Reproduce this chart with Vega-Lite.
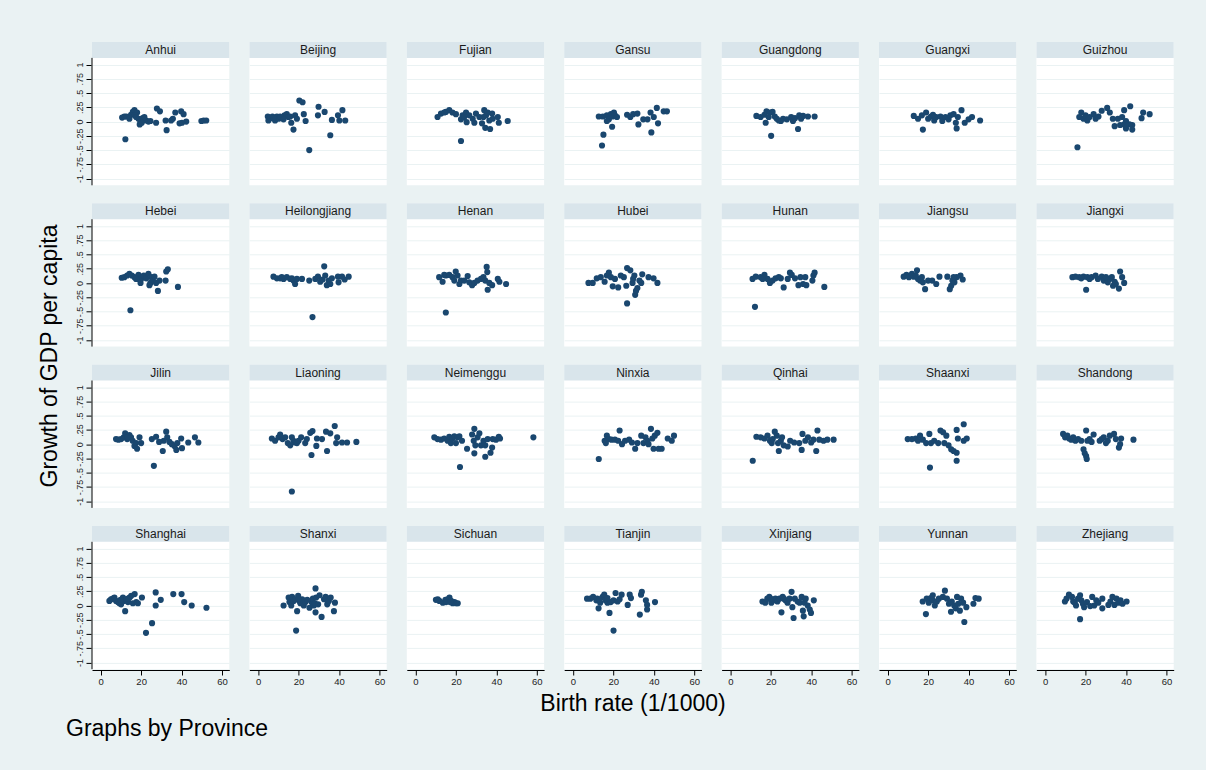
{
  "$schema": "https://vega.github.io/schema/vega-lite/v6.json",
  "background": "#eaf2f3",
  "padding": {"left": 38, "top": 42, "right": 37, "bottom": 29},
  "datasets": {
    "prov": [
      {"p":"Anhui","r":1,"c":1},{"p":"Beijing","r":1,"c":2},{"p":"Fujian","r":1,"c":3},{"p":"Gansu","r":1,"c":4},{"p":"Guangdong","r":1,"c":5},{"p":"Guangxi","r":1,"c":6},{"p":"Guizhou","r":1,"c":7},
      {"p":"Hebei","r":2,"c":1},{"p":"Heilongjiang","r":2,"c":2},{"p":"Henan","r":2,"c":3},{"p":"Hubei","r":2,"c":4},{"p":"Hunan","r":2,"c":5},{"p":"Jiangsu","r":2,"c":6},{"p":"Jiangxi","r":2,"c":7},
      {"p":"Jilin","r":3,"c":1},{"p":"Liaoning","r":3,"c":2},{"p":"Neimenggu","r":3,"c":3},{"p":"Ninxia","r":3,"c":4},{"p":"Qinhai","r":3,"c":5},{"p":"Shaanxi","r":3,"c":6},{"p":"Shandong","r":3,"c":7},
      {"p":"Shanghai","r":4,"c":1},{"p":"Shanxi","r":4,"c":2},{"p":"Sichuan","r":4,"c":3},{"p":"Tianjin","r":4,"c":4},{"p":"Xinjiang","r":4,"c":5},{"p":"Yunnan","r":4,"c":6},{"p":"Zhejiang","r":4,"c":7}
    ]
  },
  "data": {"values": [
    {"p":"Anhui","x":10.6,"y":0.07},{"p":"Anhui","x":11.7,"y":0.09},{"p":"Anhui","x":12.7,"y":0.09},{"p":"Anhui","x":15,"y":0.12},{"p":"Anhui","x":15.9,"y":0.17},{"p":"Anhui","x":16.7,"y":0.2},{"p":"Anhui","x":18,"y":0.16},{"p":"Anhui","x":16.9,"y":0.11},{"p":"Anhui","x":18.7,"y":0.05},{"p":"Anhui","x":19.7,"y":0.01},{"p":"Anhui","x":19.3,"y":-0.05},{"p":"Anhui","x":20.8,"y":0.06},{"p":"Anhui","x":21.6,"y":0.08},{"p":"Anhui","x":22.5,"y":0.02},{"p":"Anhui","x":23.6,"y":0},{"p":"Anhui","x":24.6,"y":0.01},{"p":"Anhui","x":27.4,"y":-0.02},{"p":"Anhui","x":27.8,"y":0.23},{"p":"Anhui","x":29.3,"y":0.18},{"p":"Anhui","x":12.2,"y":-0.31},{"p":"Anhui","x":32.6,"y":-0.15},{"p":"Anhui","x":32.1,"y":0.02},{"p":"Anhui","x":34.8,"y":0.02},{"p":"Anhui","x":35.7,"y":0.05},{"p":"Anhui","x":36.9,"y":0.16},{"p":"Anhui","x":39,"y":-0.03},{"p":"Anhui","x":39.8,"y":0.18},{"p":"Anhui","x":41,"y":0.13},{"p":"Anhui","x":42.3,"y":0},{"p":"Anhui","x":40.2,"y":-0.02},{"p":"Anhui","x":49.8,"y":0.01},{"p":"Anhui","x":50.9,"y":0.02},{"p":"Anhui","x":52.2,"y":0.02},{"p":"Anhui","x":14.2,"y":0.05},{"p":"Anhui","x":20.3,"y":-0.02},{"p":"Anhui","x":17.5,"y":0.08},
    {"p":"Beijing","x":4.8,"y":0.09},{"p":"Beijing","x":5.1,"y":0.02},{"p":"Beijing","x":6,"y":0.06},{"p":"Beijing","x":7.1,"y":0.09},{"p":"Beijing","x":8.4,"y":0.02},{"p":"Beijing","x":9.3,"y":0.09},{"p":"Beijing","x":10.1,"y":0.05},{"p":"Beijing","x":11.7,"y":0.06},{"p":"Beijing","x":13.1,"y":0.11},{"p":"Beijing","x":14.2,"y":0.13},{"p":"Beijing","x":15,"y":0.08},{"p":"Beijing","x":16.4,"y":-0.02},{"p":"Beijing","x":17.5,"y":-0.14},{"p":"Beijing","x":18.3,"y":0.11},{"p":"Beijing","x":19.2,"y":0.05},{"p":"Beijing","x":20.4,"y":0.37},{"p":"Beijing","x":22,"y":0.34},{"p":"Beijing","x":22.6,"y":0.13},{"p":"Beijing","x":23.5,"y":0.01},{"p":"Beijing","x":25.3,"y":-0.5},{"p":"Beijing","x":29.9,"y":0.26},{"p":"Beijing","x":29.6,"y":0.11},{"p":"Beijing","x":32.9,"y":0.17},{"p":"Beijing","x":35.7,"y":-0.24},{"p":"Beijing","x":36.5,"y":0.03},{"p":"Beijing","x":39.5,"y":0.11},{"p":"Beijing","x":40.2,"y":0.02},{"p":"Beijing","x":41.7,"y":0.2},{"p":"Beijing","x":43.1,"y":0.02},{"p":"Beijing","x":7.6,"y":0.06},{"p":"Beijing","x":10.9,"y":0.09},{"p":"Beijing","x":12.6,"y":0.04},{"p":"Beijing","x":15.9,"y":0.09},
    {"p":"Fujian","x":10.9,"y":0.08},{"p":"Fujian","x":12.6,"y":0.14},{"p":"Fujian","x":15,"y":0.17},{"p":"Fujian","x":16.7,"y":0.2},{"p":"Fujian","x":18.3,"y":0.16},{"p":"Fujian","x":20,"y":0.13},{"p":"Fujian","x":22.5,"y":0.04},{"p":"Fujian","x":23.3,"y":0.11},{"p":"Fujian","x":25,"y":0.16},{"p":"Fujian","x":25.3,"y":-0.01},{"p":"Fujian","x":26.6,"y":0.11},{"p":"Fujian","x":28.3,"y":0.05},{"p":"Fujian","x":29.1,"y":-0.02},{"p":"Fujian","x":29.9,"y":0.14},{"p":"Fujian","x":32.9,"y":-0.03},{"p":"Fujian","x":33.6,"y":0.08},{"p":"Fujian","x":34,"y":0.2},{"p":"Fujian","x":34.9,"y":0.11},{"p":"Fujian","x":35.7,"y":0.16},{"p":"Fujian","x":34.5,"y":-0.11},{"p":"Fujian","x":36.9,"y":-0.13},{"p":"Fujian","x":37.9,"y":0.14},{"p":"Fujian","x":38.2,"y":0.05},{"p":"Fujian","x":40.7,"y":0.08},{"p":"Fujian","x":41.2,"y":-0.02},{"p":"Fujian","x":45.6,"y":0.01},{"p":"Fujian","x":22.5,"y":-0.34},{"p":"Fujian","x":14.2,"y":0.16},{"p":"Fujian","x":24.1,"y":0.08},{"p":"Fujian","x":31.6,"y":0.08},{"p":"Fujian","x":36.5,"y":0.02},
    {"p":"Gansu","x":12.8,"y":0.09},{"p":"Gansu","x":14.8,"y":0.09},{"p":"Gansu","x":16.8,"y":0.11},{"p":"Gansu","x":17.8,"y":0.04},{"p":"Gansu","x":18.8,"y":0.13},{"p":"Gansu","x":19.7,"y":0.09},{"p":"Gansu","x":20.8,"y":0.11},{"p":"Gansu","x":21.8,"y":0.08},{"p":"Gansu","x":15.1,"y":-0.23},{"p":"Gansu","x":14.4,"y":-0.42},{"p":"Gansu","x":19.4,"y":-0.09},{"p":"Gansu","x":26.8,"y":0.12},{"p":"Gansu","x":28.4,"y":0.08},{"p":"Gansu","x":29.8,"y":0.13},{"p":"Gansu","x":31.9,"y":0.14},{"p":"Gansu","x":32.4,"y":-0.05},{"p":"Gansu","x":34.8,"y":0.04},{"p":"Gansu","x":36.9,"y":0.04},{"p":"Gansu","x":38.4,"y":0.16},{"p":"Gansu","x":38.8,"y":-0.19},{"p":"Gansu","x":40,"y":0.08},{"p":"Gansu","x":41.5,"y":0.24},{"p":"Gansu","x":42.1,"y":-0.03},{"p":"Gansu","x":44.9,"y":0.18},{"p":"Gansu","x":46.5,"y":0.18},{"p":"Gansu","x":16.8,"y":0.01},{"p":"Gansu","x":20.3,"y":0.16},
    {"p":"Guangdong","x":12.9,"y":0.1},{"p":"Guangdong","x":15,"y":0.08},{"p":"Guangdong","x":16.9,"y":0.12},{"p":"Guangdong","x":17.9,"y":0.18},{"p":"Guangdong","x":19.6,"y":0.16},{"p":"Guangdong","x":20.9,"y":0.17},{"p":"Guangdong","x":22,"y":0.09},{"p":"Guangdong","x":23,"y":0.05},{"p":"Guangdong","x":17.5,"y":-0.02},{"p":"Guangdong","x":20.2,"y":-0.25},{"p":"Guangdong","x":24,"y":0.02},{"p":"Guangdong","x":26.1,"y":0.05},{"p":"Guangdong","x":28,"y":0.04},{"p":"Guangdong","x":30.1,"y":0.08},{"p":"Guangdong","x":31,"y":0.01},{"p":"Guangdong","x":32,"y":0.06},{"p":"Guangdong","x":33.5,"y":-0.13},{"p":"Guangdong","x":34.1,"y":0.11},{"p":"Guangdong","x":36,"y":0.1},{"p":"Guangdong","x":38.4,"y":0.09},{"p":"Guangdong","x":41.7,"y":0.09},{"p":"Guangdong","x":19,"y":0.08},{"p":"Guangdong","x":25,"y":0.01},{"p":"Guangdong","x":35,"y":0.05},
    {"p":"Guangxi","x":12.9,"y":0.1},{"p":"Guangxi","x":15,"y":0.05},{"p":"Guangxi","x":16.9,"y":0.11},{"p":"Guangxi","x":19,"y":0.16},{"p":"Guangxi","x":20,"y":0.05},{"p":"Guangxi","x":21.4,"y":0.09},{"p":"Guangxi","x":23,"y":0.02},{"p":"Guangxi","x":24,"y":0.08},{"p":"Guangxi","x":26.1,"y":0.09},{"p":"Guangxi","x":27,"y":0.01},{"p":"Guangxi","x":28.6,"y":0.08},{"p":"Guangxi","x":30.1,"y":0.04},{"p":"Guangxi","x":31,"y":0.11},{"p":"Guangxi","x":32.6,"y":0.13},{"p":"Guangxi","x":33.7,"y":-0.02},{"p":"Guangxi","x":34.1,"y":-0.12},{"p":"Guangxi","x":36.5,"y":0.2},{"p":"Guangxi","x":38.1,"y":-0.02},{"p":"Guangxi","x":40,"y":0.04},{"p":"Guangxi","x":41.7,"y":0.08},{"p":"Guangxi","x":45.7,"y":0.02},{"p":"Guangxi","x":17.4,"y":-0.14},{"p":"Guangxi","x":34.7,"y":0.08},{"p":"Guangxi","x":22.4,"y":0.12},
    {"p":"Guizhou","x":16.9,"y":0.08},{"p":"Guizhou","x":17.9,"y":0.16},{"p":"Guizhou","x":19,"y":0.05},{"p":"Guizhou","x":20,"y":0.11},{"p":"Guizhou","x":20.9,"y":0.02},{"p":"Guizhou","x":22,"y":0.08},{"p":"Guizhou","x":24,"y":0.13},{"p":"Guizhou","x":25,"y":0.05},{"p":"Guizhou","x":26.4,"y":0.09},{"p":"Guizhou","x":28,"y":0.19},{"p":"Guizhou","x":30.7,"y":0.24},{"p":"Guizhou","x":32,"y":0.16},{"p":"Guizhou","x":33.5,"y":0.05},{"p":"Guizhou","x":34.4,"y":-0.08},{"p":"Guizhou","x":36,"y":0.05},{"p":"Guizhou","x":38.1,"y":0.08},{"p":"Guizhou","x":39.1,"y":0.2},{"p":"Guizhou","x":40,"y":0.01},{"p":"Guizhou","x":39.1,"y":-0.05},{"p":"Guizhou","x":40,"y":-0.12},{"p":"Guizhou","x":42.1,"y":0.27},{"p":"Guizhou","x":43.1,"y":-0.06},{"p":"Guizhou","x":43.1,"y":-0.14},{"p":"Guizhou","x":41.7,"y":-0.05},{"p":"Guizhou","x":47.7,"y":0.06},{"p":"Guizhou","x":48.5,"y":0.16},{"p":"Guizhou","x":51.7,"y":0.13},{"p":"Guizhou","x":16,"y":-0.45},{"p":"Guizhou","x":40,"y":-0.06},{"p":"Guizhou","x":37.1,"y":-0.06},
    {"p":"Hebei","x":10.4,"y":0.09},{"p":"Hebei","x":11.7,"y":0.1},{"p":"Hebei","x":13.1,"y":0.13},{"p":"Hebei","x":14.2,"y":0.16},{"p":"Hebei","x":15.4,"y":0.13},{"p":"Hebei","x":16.7,"y":0.1},{"p":"Hebei","x":18,"y":0.07},{"p":"Hebei","x":18.7,"y":0.14},{"p":"Hebei","x":19.7,"y":0},{"p":"Hebei","x":20,"y":0.07},{"p":"Hebei","x":21.3,"y":0.13},{"p":"Hebei","x":22.5,"y":0.08},{"p":"Hebei","x":23.6,"y":0.16},{"p":"Hebei","x":24.6,"y":0},{"p":"Hebei","x":25,"y":0.1},{"p":"Hebei","x":25.8,"y":0.04},{"p":"Hebei","x":26.6,"y":0.11},{"p":"Hebei","x":28.3,"y":-0.14},{"p":"Hebei","x":29.1,"y":0.04},{"p":"Hebei","x":32.1,"y":0.04},{"p":"Hebei","x":32.4,"y":0.2},{"p":"Hebei","x":33.2,"y":0.24},{"p":"Hebei","x":38.2,"y":-0.07},{"p":"Hebei","x":14.7,"y":-0.48},{"p":"Hebei","x":24.1,"y":-0.04},{"p":"Hebei","x":27.4,"y":0},{"p":"Hebei","x":17.5,"y":0.07},
    {"p":"Heilongjiang","x":7.6,"y":0.11},{"p":"Heilongjiang","x":9.3,"y":0.08},{"p":"Heilongjiang","x":10.9,"y":0.08},{"p":"Heilongjiang","x":12.6,"y":0.07},{"p":"Heilongjiang","x":14.2,"y":0.1},{"p":"Heilongjiang","x":15.9,"y":0.07},{"p":"Heilongjiang","x":17.5,"y":0.04},{"p":"Heilongjiang","x":18.3,"y":-0.02},{"p":"Heilongjiang","x":19.2,"y":0.07},{"p":"Heilongjiang","x":21.7,"y":0.07},{"p":"Heilongjiang","x":25.3,"y":0.04},{"p":"Heilongjiang","x":26.9,"y":-0.6},{"p":"Heilongjiang","x":28.3,"y":0.07},{"p":"Heilongjiang","x":29.6,"y":0.11},{"p":"Heilongjiang","x":30.7,"y":0.02},{"p":"Heilongjiang","x":32.7,"y":0.29},{"p":"Heilongjiang","x":33.2,"y":0.13},{"p":"Heilongjiang","x":34,"y":-0.04},{"p":"Heilongjiang","x":34.9,"y":0.04},{"p":"Heilongjiang","x":35.7,"y":-0.02},{"p":"Heilongjiang","x":36.5,"y":0.08},{"p":"Heilongjiang","x":39.5,"y":0.11},{"p":"Heilongjiang","x":39.8,"y":0.01},{"p":"Heilongjiang","x":41.5,"y":0.11},{"p":"Heilongjiang","x":42.8,"y":0.06},{"p":"Heilongjiang","x":44.8,"y":0.11},{"p":"Heilongjiang","x":11.7,"y":0.1},{"p":"Heilongjiang","x":16.7,"y":0.08},{"p":"Heilongjiang","x":31.9,"y":0.06},
    {"p":"Henan","x":11.7,"y":0.1},{"p":"Henan","x":13.4,"y":0.02},{"p":"Henan","x":14.2,"y":0.14},{"p":"Henan","x":15,"y":0.13},{"p":"Henan","x":16.7,"y":0.14},{"p":"Henan","x":18.3,"y":0.1},{"p":"Henan","x":19.9,"y":0.2},{"p":"Henan","x":20.8,"y":0.13},{"p":"Henan","x":21.7,"y":-0.02},{"p":"Henan","x":22.5,"y":0.04},{"p":"Henan","x":24.1,"y":0.04},{"p":"Henan","x":25.8,"y":0.12},{"p":"Henan","x":26.6,"y":0.01},{"p":"Henan","x":28,"y":-0.04},{"p":"Henan","x":29.1,"y":0},{"p":"Henan","x":30.7,"y":0.04},{"p":"Henan","x":32.4,"y":0.07},{"p":"Henan","x":33.6,"y":0.1},{"p":"Henan","x":34.5,"y":0.04},{"p":"Henan","x":35.2,"y":0.28},{"p":"Henan","x":35.5,"y":0.19},{"p":"Henan","x":35.7,"y":-0.12},{"p":"Henan","x":36.5,"y":0},{"p":"Henan","x":37.9,"y":-0.04},{"p":"Henan","x":40.7,"y":0.07},{"p":"Henan","x":41.5,"y":0.02},{"p":"Henan","x":44.8,"y":-0.02},{"p":"Henan","x":15,"y":-0.52},{"p":"Henan","x":19.2,"y":0.04},
    {"p":"Hubei","x":7.7,"y":0},{"p":"Hubei","x":9.8,"y":0},{"p":"Hubei","x":11.8,"y":0.08},{"p":"Hubei","x":13.8,"y":0.1},{"p":"Hubei","x":15.7,"y":0.02},{"p":"Hubei","x":16.8,"y":0.13},{"p":"Hubei","x":17.8,"y":0.18},{"p":"Hubei","x":18.8,"y":0.1},{"p":"Hubei","x":19.7,"y":-0.06},{"p":"Hubei","x":20.8,"y":0.07},{"p":"Hubei","x":22.4,"y":-0.08},{"p":"Hubei","x":25.2,"y":0.1},{"p":"Hubei","x":26.4,"y":-0.05},{"p":"Hubei","x":26.8,"y":0.26},{"p":"Hubei","x":26.8,"y":-0.36},{"p":"Hubei","x":28.4,"y":0.22},{"p":"Hubei","x":29.5,"y":0},{"p":"Hubei","x":30.4,"y":0.13},{"p":"Hubei","x":30.8,"y":-0.21},{"p":"Hubei","x":31.2,"y":-0.14},{"p":"Hubei","x":31.9,"y":-0.09},{"p":"Hubei","x":32.9,"y":0.04},{"p":"Hubei","x":33.8,"y":0},{"p":"Hubei","x":34.3,"y":0.15},{"p":"Hubei","x":37.4,"y":0.1},{"p":"Hubei","x":39.9,"y":0.08},{"p":"Hubei","x":41.8,"y":0},{"p":"Hubei","x":29.8,"y":0.07},{"p":"Hubei","x":23.7,"y":0.13},
    {"p":"Hunan","x":11,"y":0.07},{"p":"Hunan","x":12.6,"y":0.11},{"p":"Hunan","x":15,"y":0.1},{"p":"Hunan","x":16.9,"y":0.14},{"p":"Hunan","x":18.4,"y":0.07},{"p":"Hunan","x":19.6,"y":0},{"p":"Hunan","x":20.9,"y":0.04},{"p":"Hunan","x":22.4,"y":0.08},{"p":"Hunan","x":24,"y":0.1},{"p":"Hunan","x":26.4,"y":-0.08},{"p":"Hunan","x":28.4,"y":0.07},{"p":"Hunan","x":29.5,"y":0.18},{"p":"Hunan","x":30.4,"y":0.14},{"p":"Hunan","x":32,"y":0.08},{"p":"Hunan","x":33.7,"y":-0.04},{"p":"Hunan","x":34.7,"y":0.1},{"p":"Hunan","x":36,"y":-0.02},{"p":"Hunan","x":37.1,"y":0.1},{"p":"Hunan","x":37.6,"y":-0.04},{"p":"Hunan","x":40.6,"y":0.04},{"p":"Hunan","x":41.1,"y":0.13},{"p":"Hunan","x":41.7,"y":0.18},{"p":"Hunan","x":46.5,"y":-0.07},{"p":"Hunan","x":12.2,"y":-0.42},{"p":"Hunan","x":16,"y":0.07},{"p":"Hunan","x":25,"y":0.08},
    {"p":"Jiangsu","x":7.9,"y":0.11},{"p":"Jiangsu","x":9.3,"y":0.14},{"p":"Jiangsu","x":10.5,"y":0.1},{"p":"Jiangsu","x":12,"y":0.16},{"p":"Jiangsu","x":12.9,"y":0.11},{"p":"Jiangsu","x":14.5,"y":0.22},{"p":"Jiangsu","x":15,"y":0.07},{"p":"Jiangsu","x":16,"y":0.04},{"p":"Jiangsu","x":17.4,"y":0.01},{"p":"Jiangsu","x":18.5,"y":-0.11},{"p":"Jiangsu","x":20,"y":0.04},{"p":"Jiangsu","x":22,"y":0.04},{"p":"Jiangsu","x":24,"y":-0.02},{"p":"Jiangsu","x":25.6,"y":0.11},{"p":"Jiangsu","x":29.5,"y":0.11},{"p":"Jiangsu","x":30.7,"y":-0.11},{"p":"Jiangsu","x":31.4,"y":-0.05},{"p":"Jiangsu","x":32,"y":0.04},{"p":"Jiangsu","x":33,"y":0.01},{"p":"Jiangsu","x":34.1,"y":0.1},{"p":"Jiangsu","x":36,"y":0.13},{"p":"Jiangsu","x":37.1,"y":0.06},{"p":"Jiangsu","x":32.6,"y":0.1},{"p":"Jiangsu","x":13.9,"y":0.13},{"p":"Jiangsu","x":16.9,"y":0.1},
    {"p":"Jiangxi","x":13.5,"y":0.1},{"p":"Jiangxi","x":15,"y":0.11},{"p":"Jiangxi","x":16.9,"y":0.1},{"p":"Jiangxi","x":19,"y":0.11},{"p":"Jiangxi","x":20.3,"y":-0.12},{"p":"Jiangxi","x":20.9,"y":0.1},{"p":"Jiangxi","x":23,"y":0.1},{"p":"Jiangxi","x":25,"y":0.13},{"p":"Jiangxi","x":26.1,"y":0.07},{"p":"Jiangxi","x":28,"y":0.11},{"p":"Jiangxi","x":29,"y":0.04},{"p":"Jiangxi","x":31,"y":0.01},{"p":"Jiangxi","x":32,"y":0.07},{"p":"Jiangxi","x":33,"y":0.1},{"p":"Jiangxi","x":33.6,"y":-0.05},{"p":"Jiangxi","x":34.4,"y":0.02},{"p":"Jiangxi","x":35,"y":-0.02},{"p":"Jiangxi","x":36.5,"y":-0.1},{"p":"Jiangxi","x":37.1,"y":0.2},{"p":"Jiangxi","x":38.1,"y":0.1},{"p":"Jiangxi","x":39.1,"y":0},{"p":"Jiangxi","x":17.9,"y":0.08},{"p":"Jiangxi","x":22,"y":0.07},{"p":"Jiangxi","x":30.1,"y":0.1},
    {"p":"Jilin","x":7.6,"y":0.09},{"p":"Jilin","x":8.8,"y":0.08},{"p":"Jilin","x":10.1,"y":0.09},{"p":"Jilin","x":11.4,"y":0.12},{"p":"Jilin","x":12.1,"y":0.19},{"p":"Jilin","x":13.1,"y":0.09},{"p":"Jilin","x":14.2,"y":0.16},{"p":"Jilin","x":15,"y":0.12},{"p":"Jilin","x":15.8,"y":0.06},{"p":"Jilin","x":16.7,"y":-0.03},{"p":"Jilin","x":17.5,"y":0.02},{"p":"Jilin","x":18,"y":-0.08},{"p":"Jilin","x":19.2,"y":0.12},{"p":"Jilin","x":20,"y":0.02},{"p":"Jilin","x":25.3,"y":0.09},{"p":"Jilin","x":26.3,"y":-0.38},{"p":"Jilin","x":27.4,"y":0.13},{"p":"Jilin","x":30.7,"y":-0.12},{"p":"Jilin","x":31.2,"y":0.06},{"p":"Jilin","x":32.4,"y":0.22},{"p":"Jilin","x":32.9,"y":0.12},{"p":"Jilin","x":34,"y":0.04},{"p":"Jilin","x":35.2,"y":0},{"p":"Jilin","x":36.5,"y":-0.03},{"p":"Jilin","x":37.4,"y":-0.1},{"p":"Jilin","x":37.9,"y":0.02},{"p":"Jilin","x":39.8,"y":0.1},{"p":"Jilin","x":40.2,"y":-0.07},{"p":"Jilin","x":43.3,"y":0.03},{"p":"Jilin","x":46.6,"y":0.12},{"p":"Jilin","x":48.3,"y":0.03},{"p":"Jilin","x":13.4,"y":0.12},{"p":"Jilin","x":28.9,"y":0.04},
    {"p":"Liaoning","x":6.8,"y":0.1},{"p":"Liaoning","x":8.4,"y":0.06},{"p":"Liaoning","x":10.1,"y":0.12},{"p":"Liaoning","x":10.9,"y":0.17},{"p":"Liaoning","x":12.1,"y":0.09},{"p":"Liaoning","x":13.4,"y":0.12},{"p":"Liaoning","x":14.7,"y":0.02},{"p":"Liaoning","x":15.9,"y":-0.02},{"p":"Liaoning","x":16.7,"y":0.12},{"p":"Liaoning","x":17.5,"y":0.06},{"p":"Liaoning","x":18.3,"y":0.03},{"p":"Liaoning","x":16.7,"y":-0.83},{"p":"Liaoning","x":19.2,"y":0.02},{"p":"Liaoning","x":21.3,"y":0.12},{"p":"Liaoning","x":23.3,"y":0.02},{"p":"Liaoning","x":24.1,"y":0.09},{"p":"Liaoning","x":25.8,"y":0.2},{"p":"Liaoning","x":26.4,"y":-0.19},{"p":"Liaoning","x":26.9,"y":0.23},{"p":"Liaoning","x":28.8,"y":-0.03},{"p":"Liaoning","x":29.1,"y":0.1},{"p":"Liaoning","x":31.6,"y":0.09},{"p":"Liaoning","x":33.6,"y":0.22},{"p":"Liaoning","x":34.1,"y":-0.12},{"p":"Liaoning","x":35.7,"y":0.19},{"p":"Liaoning","x":37.9,"y":0.32},{"p":"Liaoning","x":39.1,"y":0.12},{"p":"Liaoning","x":38.6,"y":0.02},{"p":"Liaoning","x":41.5,"y":0.03},{"p":"Liaoning","x":44,"y":0.03},{"p":"Liaoning","x":48.6,"y":0.04},{"p":"Liaoning","x":20,"y":0.06},
    {"p":"Neimenggu","x":9.3,"y":0.12},{"p":"Neimenggu","x":10.9,"y":0.09},{"p":"Neimenggu","x":12.6,"y":0.08},{"p":"Neimenggu","x":14.2,"y":0.1},{"p":"Neimenggu","x":15.9,"y":0.06},{"p":"Neimenggu","x":16.7,"y":0.13},{"p":"Neimenggu","x":17.5,"y":0.02},{"p":"Neimenggu","x":18.3,"y":0.1},{"p":"Neimenggu","x":19.2,"y":0.14},{"p":"Neimenggu","x":20,"y":0.02},{"p":"Neimenggu","x":20.8,"y":0.12},{"p":"Neimenggu","x":21.7,"y":0.14},{"p":"Neimenggu","x":22,"y":-0.4},{"p":"Neimenggu","x":23,"y":0.06},{"p":"Neimenggu","x":25.5,"y":-0.08},{"p":"Neimenggu","x":28,"y":0.17},{"p":"Neimenggu","x":28.8,"y":0.06},{"p":"Neimenggu","x":29.1,"y":0.27},{"p":"Neimenggu","x":29.6,"y":-0.02},{"p":"Neimenggu","x":29.1,"y":-0.16},{"p":"Neimenggu","x":30.7,"y":0.12},{"p":"Neimenggu","x":31.6,"y":0.19},{"p":"Neimenggu","x":32.4,"y":-0.02},{"p":"Neimenggu","x":33.6,"y":0.06},{"p":"Neimenggu","x":34.5,"y":-0.02},{"p":"Neimenggu","x":34.5,"y":-0.22},{"p":"Neimenggu","x":35.7,"y":0.09},{"p":"Neimenggu","x":37.1,"y":-0.15},{"p":"Neimenggu","x":37.9,"y":-0.06},{"p":"Neimenggu","x":38.2,"y":0.09},{"p":"Neimenggu","x":39.8,"y":0.08},{"p":"Neimenggu","x":41.2,"y":0.13},{"p":"Neimenggu","x":41.8,"y":0.1},{"p":"Neimenggu","x":58.3,"y":0.12},
    {"p":"Ninxia","x":12.8,"y":-0.26},{"p":"Ninxia","x":15.7,"y":0.06},{"p":"Ninxia","x":16.8,"y":0.15},{"p":"Ninxia","x":17.8,"y":0.09},{"p":"Ninxia","x":19.1,"y":0.08},{"p":"Ninxia","x":20.8,"y":0.08},{"p":"Ninxia","x":22.4,"y":0.06},{"p":"Ninxia","x":23.1,"y":0.24},{"p":"Ninxia","x":24.3,"y":0},{"p":"Ninxia","x":25.8,"y":0.06},{"p":"Ninxia","x":27.8,"y":0.08},{"p":"Ninxia","x":29.2,"y":0.03},{"p":"Ninxia","x":30.8,"y":-0.08},{"p":"Ninxia","x":31.9,"y":0.02},{"p":"Ninxia","x":33.8,"y":0.15},{"p":"Ninxia","x":34.9,"y":0.02},{"p":"Ninxia","x":35.9,"y":0.12},{"p":"Ninxia","x":36.9,"y":0.06},{"p":"Ninxia","x":37.4,"y":0},{"p":"Ninxia","x":38.6,"y":0.27},{"p":"Ninxia","x":39.3,"y":0.1},{"p":"Ninxia","x":39.9,"y":-0.08},{"p":"Ninxia","x":40.5,"y":0.15},{"p":"Ninxia","x":41.8,"y":0.2},{"p":"Ninxia","x":42.4,"y":-0.08},{"p":"Ninxia","x":43.9,"y":-0.08},{"p":"Ninxia","x":46.9,"y":0.1},{"p":"Ninxia","x":48.9,"y":0.06},{"p":"Ninxia","x":50,"y":0.15},{"p":"Ninxia","x":16.3,"y":0.02},
    {"p":"Qinhai","x":11.1,"y":-0.29},{"p":"Qinhai","x":12.9,"y":0.13},{"p":"Qinhai","x":15,"y":0.12},{"p":"Qinhai","x":16.9,"y":0.1},{"p":"Qinhai","x":18.4,"y":0.15},{"p":"Qinhai","x":19.6,"y":0.06},{"p":"Qinhai","x":20.5,"y":0.02},{"p":"Qinhai","x":21,"y":0.09},{"p":"Qinhai","x":22,"y":0.22},{"p":"Qinhai","x":23,"y":0.15},{"p":"Qinhai","x":23.6,"y":0.02},{"p":"Qinhai","x":24,"y":-0.12},{"p":"Qinhai","x":25,"y":0.06},{"p":"Qinhai","x":25.6,"y":0.12},{"p":"Qinhai","x":26.4,"y":-0.02},{"p":"Qinhai","x":28.4,"y":-0.04},{"p":"Qinhai","x":29.6,"y":0.06},{"p":"Qinhai","x":31.6,"y":0.03},{"p":"Qinhai","x":34.1,"y":0.02},{"p":"Qinhai","x":35.3,"y":-0.1},{"p":"Qinhai","x":35.7,"y":0.18},{"p":"Qinhai","x":37.1,"y":0.06},{"p":"Qinhai","x":38.4,"y":0.12},{"p":"Qinhai","x":40,"y":0.03},{"p":"Qinhai","x":41.1,"y":0.08},{"p":"Qinhai","x":42.5,"y":-0.12},{"p":"Qinhai","x":43.1,"y":0.24},{"p":"Qinhai","x":44,"y":0.08},{"p":"Qinhai","x":46.1,"y":0.06},{"p":"Qinhai","x":48,"y":0.08},{"p":"Qinhai","x":51.1,"y":0.08},
    {"p":"Shaanxi","x":9.9,"y":0.09},{"p":"Shaanxi","x":12,"y":0.09},{"p":"Shaanxi","x":13.9,"y":0.1},{"p":"Shaanxi","x":16,"y":0.15},{"p":"Shaanxi","x":17.4,"y":0.08},{"p":"Shaanxi","x":19,"y":0.02},{"p":"Shaanxi","x":20.6,"y":0.18},{"p":"Shaanxi","x":20.9,"y":-0.41},{"p":"Shaanxi","x":21.4,"y":0.02},{"p":"Shaanxi","x":23,"y":0.06},{"p":"Shaanxi","x":25,"y":0.02},{"p":"Shaanxi","x":26.1,"y":0.24},{"p":"Shaanxi","x":27.4,"y":0.21},{"p":"Shaanxi","x":28,"y":0.02},{"p":"Shaanxi","x":29,"y":0.15},{"p":"Shaanxi","x":30.1,"y":-0.02},{"p":"Shaanxi","x":31.4,"y":-0.09},{"p":"Shaanxi","x":32.6,"y":-0.12},{"p":"Shaanxi","x":34.1,"y":-0.15},{"p":"Shaanxi","x":34.1,"y":0.25},{"p":"Shaanxi","x":34.1,"y":-0.29},{"p":"Shaanxi","x":34.7,"y":0.1},{"p":"Shaanxi","x":37.6,"y":0.35},{"p":"Shaanxi","x":37.6,"y":0.06},{"p":"Shaanxi","x":39.1,"y":0.1},{"p":"Shaanxi","x":15,"y":0.06},
    {"p":"Shandong","x":8.9,"y":0.18},{"p":"Shandong","x":9.9,"y":0.12},{"p":"Shandong","x":11,"y":0.15},{"p":"Shandong","x":11.9,"y":0.1},{"p":"Shandong","x":12.9,"y":0.08},{"p":"Shandong","x":13.9,"y":0.12},{"p":"Shandong","x":15,"y":0.06},{"p":"Shandong","x":16.3,"y":0.09},{"p":"Shandong","x":17.9,"y":0.06},{"p":"Shandong","x":19,"y":-0.09},{"p":"Shandong","x":19.6,"y":-0.16},{"p":"Shandong","x":20.3,"y":0.24},{"p":"Shandong","x":20.3,"y":-0.21},{"p":"Shandong","x":20.6,"y":-0.26},{"p":"Shandong","x":20.9,"y":0.06},{"p":"Shandong","x":23,"y":0.04},{"p":"Shandong","x":24,"y":0.17},{"p":"Shandong","x":27,"y":0.06},{"p":"Shandong","x":28,"y":0.09},{"p":"Shandong","x":29,"y":0.12},{"p":"Shandong","x":30.1,"y":0.02},{"p":"Shandong","x":31,"y":0.06},{"p":"Shandong","x":32,"y":0.15},{"p":"Shandong","x":34.1,"y":0.18},{"p":"Shandong","x":35,"y":0.09},{"p":"Shandong","x":36.5,"y":-0.06},{"p":"Shandong","x":37.1,"y":0},{"p":"Shandong","x":37.6,"y":0.1},{"p":"Shandong","x":43.7,"y":0.08},{"p":"Shandong","x":22,"y":0.09},
    {"p":"Shanghai","x":4.3,"y":0.08},{"p":"Shanghai","x":5.1,"y":0.11},{"p":"Shanghai","x":6,"y":0.12},{"p":"Shanghai","x":6.8,"y":0.14},{"p":"Shanghai","x":7.6,"y":0.08},{"p":"Shanghai","x":8.5,"y":0.06},{"p":"Shanghai","x":9.3,"y":0.04},{"p":"Shanghai","x":10.1,"y":0.02},{"p":"Shanghai","x":11,"y":0.14},{"p":"Shanghai","x":11.5,"y":0.08},{"p":"Shanghai","x":12.1,"y":-0.1},{"p":"Shanghai","x":12.6,"y":0.11},{"p":"Shanghai","x":13.5,"y":0.06},{"p":"Shanghai","x":14.3,"y":0.14},{"p":"Shanghai","x":15.1,"y":0.17},{"p":"Shanghai","x":15.9,"y":0.04},{"p":"Shanghai","x":16.8,"y":0.2},{"p":"Shanghai","x":17.6,"y":0.06},{"p":"Shanghai","x":18.4,"y":0.04},{"p":"Shanghai","x":20.4,"y":0.14},{"p":"Shanghai","x":22.4,"y":-0.48},{"p":"Shanghai","x":25.4,"y":-0.31},{"p":"Shanghai","x":27.2,"y":0.23},{"p":"Shanghai","x":27.2,"y":0},{"p":"Shanghai","x":29.7,"y":0.1},{"p":"Shanghai","x":35.9,"y":0.2},{"p":"Shanghai","x":40,"y":0.2},{"p":"Shanghai","x":41.3,"y":0.06},{"p":"Shanghai","x":45,"y":0},{"p":"Shanghai","x":52.3,"y":-0.04},{"p":"Shanghai","x":9.8,"y":0.1},{"p":"Shanghai","x":13.5,"y":0.12},
    {"p":"Shanxi","x":12.6,"y":0},{"p":"Shanxi","x":15.1,"y":0.14},{"p":"Shanxi","x":15.5,"y":0.06},{"p":"Shanxi","x":16.4,"y":0},{"p":"Shanxi","x":16.8,"y":0.15},{"p":"Shanxi","x":17.6,"y":0.08},{"p":"Shanxi","x":18.4,"y":0.11},{"p":"Shanxi","x":19.3,"y":-0.1},{"p":"Shanxi","x":18.8,"y":-0.44},{"p":"Shanxi","x":19.8,"y":0.17},{"p":"Shanxi","x":20.4,"y":0.08},{"p":"Shanxi","x":20.9,"y":0.04},{"p":"Shanxi","x":21.8,"y":0.11},{"p":"Shanxi","x":22.6,"y":0},{"p":"Shanxi","x":23.4,"y":0.06},{"p":"Shanxi","x":25.4,"y":-0.04},{"p":"Shanxi","x":26.4,"y":0.06},{"p":"Shanxi","x":27.1,"y":0.12},{"p":"Shanxi","x":27.6,"y":0},{"p":"Shanxi","x":28.1,"y":0.04},{"p":"Shanxi","x":28.4,"y":0.3},{"p":"Shanxi","x":28.4,"y":-0.12},{"p":"Shanxi","x":28.7,"y":0.14},{"p":"Shanxi","x":29.7,"y":0.02},{"p":"Shanxi","x":30.4,"y":0.18},{"p":"Shanxi","x":31.4,"y":-0.2},{"p":"Shanxi","x":32.6,"y":0.11},{"p":"Shanxi","x":33.4,"y":0.15},{"p":"Shanxi","x":34.2,"y":0.02},{"p":"Shanxi","x":35,"y":0.08},{"p":"Shanxi","x":35.9,"y":0.14},{"p":"Shanxi","x":37.5,"y":-0.1},{"p":"Shanxi","x":38,"y":0.05},{"p":"Shanxi","x":20.1,"y":0.12},{"p":"Shanxi","x":24.3,"y":0.1},
    {"p":"Sichuan","x":10.1,"y":0.1},{"p":"Sichuan","x":11.8,"y":0.08},{"p":"Sichuan","x":13.5,"y":0.05},{"p":"Sichuan","x":14.8,"y":0.1},{"p":"Sichuan","x":15.9,"y":0.11},{"p":"Sichuan","x":16.8,"y":0.14},{"p":"Sichuan","x":17.6,"y":0.08},{"p":"Sichuan","x":18.4,"y":0.04},{"p":"Sichuan","x":19.3,"y":0.06},{"p":"Sichuan","x":20.1,"y":0.04},{"p":"Sichuan","x":20.9,"y":0.04},{"p":"Sichuan","x":11,"y":0.11},{"p":"Sichuan","x":15.1,"y":0.06},{"p":"Sichuan","x":17.1,"y":0.06},
    {"p":"Tianjin","x":7,"y":0.12},{"p":"Tianjin","x":8.6,"y":0.12},{"p":"Tianjin","x":10,"y":0.15},{"p":"Tianjin","x":11.6,"y":0.09},{"p":"Tianjin","x":12,"y":0.12},{"p":"Tianjin","x":12.7,"y":-0.05},{"p":"Tianjin","x":13.5,"y":0.05},{"p":"Tianjin","x":14.7,"y":0.15},{"p":"Tianjin","x":15.5,"y":0.19},{"p":"Tianjin","x":16.1,"y":0.09},{"p":"Tianjin","x":17.1,"y":0.05},{"p":"Tianjin","x":18.1,"y":-0.13},{"p":"Tianjin","x":18.7,"y":0.06},{"p":"Tianjin","x":20.1,"y":-0.44},{"p":"Tianjin","x":20.1,"y":0.09},{"p":"Tianjin","x":21.1,"y":0.22},{"p":"Tianjin","x":22.1,"y":0.07},{"p":"Tianjin","x":23.1,"y":0.11},{"p":"Tianjin","x":24.1,"y":0.19},{"p":"Tianjin","x":27.1,"y":0.01},{"p":"Tianjin","x":28.1,"y":0.19},{"p":"Tianjin","x":28.7,"y":0.13},{"p":"Tianjin","x":33.1,"y":-0.16},{"p":"Tianjin","x":33.7,"y":0.19},{"p":"Tianjin","x":34.1,"y":0.24},{"p":"Tianjin","x":36.1,"y":0.09},{"p":"Tianjin","x":36.7,"y":0.01},{"p":"Tianjin","x":36.7,"y":-0.07},{"p":"Tianjin","x":40.6,"y":0.06},{"p":"Tianjin","x":13.1,"y":0.11},{"p":"Tianjin","x":17.1,"y":0.13},
    {"p":"Xinjiang","x":15.9,"y":0.07},{"p":"Xinjiang","x":17.3,"y":0.05},{"p":"Xinjiang","x":18.3,"y":0.12},{"p":"Xinjiang","x":19.3,"y":0.15},{"p":"Xinjiang","x":20.3,"y":0.05},{"p":"Xinjiang","x":21.3,"y":0.09},{"p":"Xinjiang","x":22.3,"y":0.12},{"p":"Xinjiang","x":23.3,"y":0.07},{"p":"Xinjiang","x":24.3,"y":0.12},{"p":"Xinjiang","x":25.3,"y":-0.12},{"p":"Xinjiang","x":25.9,"y":0.15},{"p":"Xinjiang","x":27.3,"y":0.09},{"p":"Xinjiang","x":28.3,"y":0.05},{"p":"Xinjiang","x":29.3,"y":0.12},{"p":"Xinjiang","x":30.3,"y":0.24},{"p":"Xinjiang","x":30.7,"y":-0.03},{"p":"Xinjiang","x":31.3,"y":-0.22},{"p":"Xinjiang","x":31.9,"y":0.12},{"p":"Xinjiang","x":33.3,"y":0.07},{"p":"Xinjiang","x":34.3,"y":0.05},{"p":"Xinjiang","x":35.3,"y":0.15},{"p":"Xinjiang","x":35.9,"y":-0.09},{"p":"Xinjiang","x":36.3,"y":-0.19},{"p":"Xinjiang","x":36.7,"y":0.05},{"p":"Xinjiang","x":37.3,"y":0.12},{"p":"Xinjiang","x":38.3,"y":0},{"p":"Xinjiang","x":39.3,"y":-0.07},{"p":"Xinjiang","x":39.9,"y":-0.13},{"p":"Xinjiang","x":41.3,"y":0.09},{"p":"Xinjiang","x":19.9,"y":0.12},{"p":"Xinjiang","x":26.5,"y":0.12},
    {"p":"Yunnan","x":17.3,"y":0.07},{"p":"Yunnan","x":18.9,"y":-0.15},{"p":"Yunnan","x":19.3,"y":0.12},{"p":"Yunnan","x":20.3,"y":0.05},{"p":"Yunnan","x":21.3,"y":0.13},{"p":"Yunnan","x":22.3,"y":0.09},{"p":"Yunnan","x":23.3,"y":0},{"p":"Yunnan","x":24.3,"y":0.07},{"p":"Yunnan","x":25.3,"y":0.12},{"p":"Yunnan","x":27.3,"y":0.15},{"p":"Yunnan","x":28.3,"y":0.26},{"p":"Yunnan","x":29.3,"y":0.12},{"p":"Yunnan","x":30.3,"y":0.03},{"p":"Yunnan","x":31.3,"y":-0.11},{"p":"Yunnan","x":31.7,"y":0.07},{"p":"Yunnan","x":32.9,"y":0},{"p":"Yunnan","x":33.7,"y":-0.05},{"p":"Yunnan","x":34.3,"y":0.15},{"p":"Yunnan","x":34.9,"y":0.03},{"p":"Yunnan","x":35.7,"y":-0.09},{"p":"Yunnan","x":36.3,"y":0.12},{"p":"Yunnan","x":37.3,"y":0.05},{"p":"Yunnan","x":37.9,"y":-0.29},{"p":"Yunnan","x":38.9,"y":-0.03},{"p":"Yunnan","x":42.4,"y":0.03},{"p":"Yunnan","x":43.4,"y":0.13},{"p":"Yunnan","x":45,"y":0.12},{"p":"Yunnan","x":22.3,"y":0.18},
    {"p":"Zhejiang","x":9.8,"y":0.07},{"p":"Zhejiang","x":10.6,"y":0.12},{"p":"Zhejiang","x":11.8,"y":0.19},{"p":"Zhejiang","x":13.3,"y":0.15},{"p":"Zhejiang","x":14.7,"y":0.05},{"p":"Zhejiang","x":15.3,"y":0},{"p":"Zhejiang","x":16.3,"y":0.12},{"p":"Zhejiang","x":17.3,"y":0.18},{"p":"Zhejiang","x":17.9,"y":0.09},{"p":"Zhejiang","x":17.3,"y":-0.24},{"p":"Zhejiang","x":18.7,"y":0.03},{"p":"Zhejiang","x":19.3,"y":-0.03},{"p":"Zhejiang","x":20.7,"y":0.06},{"p":"Zhejiang","x":22.3,"y":-0.01},{"p":"Zhejiang","x":23.3,"y":0.15},{"p":"Zhejiang","x":24.3,"y":0},{"p":"Zhejiang","x":25.3,"y":0.09},{"p":"Zhejiang","x":26.3,"y":0.05},{"p":"Zhejiang","x":28.3,"y":0.12},{"p":"Zhejiang","x":28.3,"y":-0.05},{"p":"Zhejiang","x":31.3,"y":0.01},{"p":"Zhejiang","x":32.3,"y":0.07},{"p":"Zhejiang","x":33.3,"y":0.15},{"p":"Zhejiang","x":34.3,"y":0.01},{"p":"Zhejiang","x":35.3,"y":0.12},{"p":"Zhejiang","x":36.3,"y":0.05},{"p":"Zhejiang","x":37.3,"y":0.09},{"p":"Zhejiang","x":38.3,"y":0.03},{"p":"Zhejiang","x":40.3,"y":0.07},{"p":"Zhejiang","x":13.9,"y":0.07}
  ]},
  "transform": [
    {"lookup": "p", "from": {"data": {"name": "prov"}, "key": "p", "fields": ["r", "c"]}}
  ],
  "facet": {
    "row": {"field": "r", "type": "ordinal", "title": "Growth of GDP per capita",
      "header": {"labels": false, "titleFont": "Liberation Sans", "titleFontSize": 23, "titleFontWeight": "normal", "titleColor": "#000000", "titleOrient": "left", "titlePadding": 2}},
    "column": {"field": "c", "type": "ordinal", "title": "Birth rate (1/1000)",
      "header": {"labels": false, "titleFont": "Liberation Sans", "titleFontSize": 23, "titleFontWeight": "normal", "titleColor": "#000000", "titleOrient": "bottom", "titlePadding": -3}}
  },
  "spacing": {"row": 17.3, "column": 19.4},
  "spec": {
    "width": 137.3,
    "height": 143.3,
    "layer": [
      {
        "mark": {"type": "circle", "size": 38, "color": "#1a476f", "opacity": 1},
        "encoding": {
          "x": {"field": "x", "type": "quantitative",
            "scale": {"domain": [-4.3, 63.6], "nice": false, "zero": false},
            "axis": {"title": null, "values": [0, 20, 40, 60]}},
          "y": {"field": "y", "type": "quantitative",
            "scale": {"domain": [-1.118, 1.397], "nice": false, "zero": false},
            "axis": {"title": null, "values": [-1, -0.75, -0.5, -0.25, 0, 0.25, 0.5, 0.75, 1], "labelExpr": "replace(toString(datum.value), '0.', '.')"}}
        }
      },
      {
        "transform": [{"aggregate": [{"op": "count", "as": "n"}], "groupby": ["p"]}],
        "mark": {"type": "rect", "fill": "#d9e5eb"},
        "encoding": {
          "x": {"datum": -4.3, "type": "quantitative", "axis": {"title": null, "values": [0, 20, 40, 60]}},
          "x2": {"datum": 63.6},
          "y": {"datum": 1.118, "type": "quantitative", "axis": {"title": null, "values": [-1, -0.75, -0.5, -0.25, 0, 0.25, 0.5, 0.75, 1], "labelExpr": "replace(toString(datum.value), '0.', '.')"}},
          "y2": {"datum": 1.397}
        }
      },
      {
        "transform": [{"aggregate": [{"op": "count", "as": "n"}], "groupby": ["p"]}],
        "mark": {"type": "text", "font": "Liberation Sans", "fontSize": 12, "color": "#1a1a1a", "baseline": "middle", "align": "center"},
        "encoding": {
          "x": {"datum": 29.65, "type": "quantitative", "axis": {"title": null, "values": [0, 20, 40, 60]}},
          "y": {"datum": 1.2575, "type": "quantitative", "axis": {"title": null, "values": [-1, -0.75, -0.5, -0.25, 0, 0.25, 0.5, 0.75, 1], "labelExpr": "replace(toString(datum.value), '0.', '.')"}},
          "text": {"field": "p"}
        }
      },
      {
        "transform": [{"aggregate": [{"op": "count", "as": "n"}], "groupby": ["p", "c"]}, {"filter": "datum.c == 1"}],
        "mark": {"type": "rule", "color": "#000000", "strokeWidth": 1},
        "encoding": {
          "x": {"datum": -4.3, "type": "quantitative", "axis": {"title": null, "values": [0, 20, 40, 60]}},
          "y": {"datum": -1.118, "type": "quantitative", "axis": {"title": null, "values": [-1, -0.75, -0.5, -0.25, 0, 0.25, 0.5, 0.75, 1], "labelExpr": "replace(toString(datum.value), '0.', '.')"}},
          "y2": {"datum": 1.118}
        }
      }
    ]
  },
  "title": {"text": "Graphs by Province", "orient": "bottom", "anchor": "start", "frame": "bounds", "font": "Liberation Sans", "fontSize": 23, "fontWeight": "normal", "color": "#000000", "offset": 2, "dx": 27},
  "config": {
    "view": {"fill": "#ffffff", "stroke": null},
    "axis": {"labelOverlap": false, "title": null},
    "axisX": {"grid": false, "domainColor": "#000000", "tickColor": "#000000", "tickSize": 5, "labelFont": "Liberation Sans", "labelFontSize": 9.5, "labelColor": "#222222", "labelPadding": 1},
    "axisY": {"grid": true, "gridColor": "#eaf2f3", "gridWidth": 1, "domain": false, "tickColor": "#000000", "tickSize": 5, "labelAngle": -90, "labelAlign": "center", "labelBaseline": "bottom", "labelFont": "Liberation Sans", "labelFontSize": 9, "labelColor": "#222222", "labelPadding": 2}
  }
}
